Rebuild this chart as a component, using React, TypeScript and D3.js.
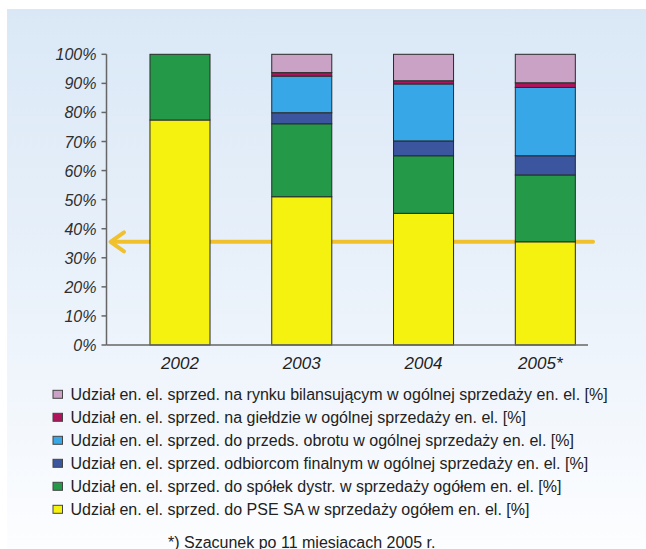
import React from 'react'
import * as d3 from 'd3'

const years = ['2002', '2003', '2004', '2005']
const yearLabels = ['2002', '2003', '2004', '2005*']

// bottom to top
const pse = [77.4, 51.0, 45.3, 35.5]
const spolki = [22.6, 25.1, 19.8, 23.0]
const odbiorcy = [0, 3.8, 5.1, 6.6]
const obrot = [0, 12.6, 19.6, 23.5]
const gielda = [0, 1.2, 1.1, 1.6]
const bilansujacy = [0, 6.3, 9.1, 9.8]

const seriesKeys = ['pse', 'spolki', 'odbiorcy', 'obrot', 'gielda', 'bilansujacy']
const seriesNames = [
  'Udział en. el. sprzed. do PSE SA w sprzedaży ogółem en. el. [%]',
  'Udział en. el. sprzed. do spółek dystr. w sprzedaży ogółem en. el. [%]',
  'Udział en. el. sprzed. odbiorcom finalnym w ogólnej sprzedaży en. el. [%]',
  'Udział en. el. sprzed. do przeds. obrotu w ogólnej sprzedaży en. el. [%]',
  'Udział en. el. sprzed. na giełdzie w ogólnej sprzedaży en. el. [%]',
  'Udział en. el. sprzed. na rynku bilansującym w ogólnej sprzedaży en. el. [%]'
]
const seriesColors = ['#f6f20f', '#249a48', '#3b559f', '#38a7e7', '#b0145c', '#c9a2c6']

const yTicks = [0, 10, 20, 30, 40, 50, 60, 70, 80, 90, 100]
const arrowLevel = 35.5
const footnote = '*) Szacunek po 11 miesiacach 2005 r.'

export default function App () {
  const width = 646
  const height = 549
  const axisX = 106.5
  const axisEnd = 588

  const rows = years.map((y, i) => ({
    year: y,
    pse: pse[i],
    spolki: spolki[i],
    odbiorcy: odbiorcy[i],
    obrot: obrot[i],
    gielda: gielda[i],
    bilansujacy: bilansujacy[i]
  }))
  const stacked = d3.stack().keys(seriesKeys)(rows as any)

  const xScale = d3.scaleBand()
    .domain(years)
    .range([axisX, 618.8])
    .paddingInner(0.507)
    .paddingOuter(0.357)
  const yScale = d3.scaleLinear()
    .domain([0, 100])
    .range([345, 54.3])

  const font = 'Liberation Sans, Arial, sans-serif'
  const ay = yScale(arrowLevel)

  return <svg width={width} height={height} style={{ position: 'absolute', left: 0, top: 0, display: 'block' }}>
    <defs>
      <linearGradient id='bg' x1='0' y1='0' x2='0' y2='1'>
        <stop offset='0' stopColor='#dae8f6' />
        <stop offset='0.5' stopColor='#e9f1fa' />
        <stop offset='1' stopColor='#fcfdff' />
      </linearGradient>
    </defs>
    <rect x={0} y={0} width={width} height={height} fill='#ffffff' />
    <rect x={7} y={9} width={width - 7} height={height - 9} fill='url(#bg)' />

    {/* arrow behind bars */}
    <g stroke='#f0c12c' strokeWidth={4} fill='none' strokeLinecap='round'>
      <line x1={112} y1={ay} x2={593} y2={ay} />
      <polyline points={`124,${ay - 9.5} 110.5,${ay} 124,${ay + 9.5}`} strokeLinejoin='round' />
    </g>

    <g>
      {stacked.map((s, si) => <g key={si} fill={seriesColors[si]}>
        {s.map((d, i) => d[1] - d[0] > 0
          ? <rect key={i}
            x={xScale(years[i])}
            y={yScale(d[1])}
            width={xScale.bandwidth()}
            height={yScale(d[0]) - yScale(d[1])}
            stroke='#2a2a2a' strokeWidth={1} />
          : null)}
      </g>)}
    </g>

    {/* y axis */}
    <g fontFamily={font} fontStyle='italic' fontSize={16} fill='#2e2e2e'>
      <line x1={axisX} y1={yScale(0)} x2={axisX} y2={yScale(100)} stroke='#666' strokeWidth={1.5} />
      {yTicks.map((v, i) => <g key={i} transform={`translate(${axisX},${yScale(v)})`}>
        <line x1={0} y1={0} x2={-5} y2={0} stroke='#666' strokeWidth={1.5} />
        <text x={-10} dy={6} textAnchor='end'>{v}%</text>
      </g>)}
    </g>

    {/* x axis */}
    <g fontFamily={font} fontStyle='italic' fontSize={17} fill='#222'>
      <line x1={axisX} y1={yScale(0)} x2={axisEnd} y2={yScale(0)} stroke='#666' strokeWidth={1.5} />
      {years.map((y, i) => <text key={i}
        x={(xScale(y) || 0) + xScale.bandwidth() / 2 + (i === 3 ? -5 : 0)}
        y={369} textAnchor='middle'>{yearLabels[i]}</text>)}
    </g>

    {/* legend, top row is last series */}
    <g fontFamily={font} fontSize={16} fill='#222'>
      {seriesNames.slice().reverse().map((name, i) => {
        const si = seriesNames.length - 1 - i
        const cy = 394.3 + i * 23
        return <g key={i}>
          <rect x={53} y={cy - 4} width={9.5} height={8} fill={seriesColors[si]} stroke='#444' strokeWidth={1} />
          <text x={70.5} y={cy + 6}>{name}</text>
        </g>
      })}
      <text x={168} y={547.5}>{footnote}</text>
    </g>
  </svg>
}
